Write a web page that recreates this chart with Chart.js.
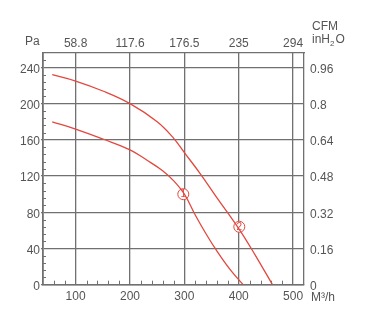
<!DOCTYPE html>
<html lang="en">
<head>
<meta charset="UTF-8">
<title>Fan performance curve</title>
<script src="https://cdn.jsdelivr.net/npm/chart.js"></script>
<style>
  html, body { margin: 0; padding: 0; background: #fff; }
  #wrap { width: 365px; height: 321px; }
</style>
</head>
<body>
<div id="wrap"><canvas id="fanChart" width="365" height="321"></canvas></div>
<script>
// axis ticks (m3/h bottom, CFM top, Pa left, inH2O right)
const flowTicks = [100, 200, 300, 400, 500];
const cfmLabels = ['58.8', '117.6', '176.5', '235', '294'];
const paTicks = [0, 40, 80, 120, 160, 200, 240];
const inH2OLabels = ['0', '0.16', '0.32', '0.48', '0.64', '0.8', '0.96'];

// curve 1 (lower)
const curve1Flow = [57, 100, 150, 200, 230, 260, 280, 300, 320, 340, 360, 385, 408];
const curve1Pa   = [180, 172, 161, 149, 138, 126, 115, 100, 77, 56, 37, 16, 0];
// curve 2 (upper)
const curve2Flow = [57, 100, 150, 200, 250, 280, 300, 330, 360, 400, 430, 462];
const curve2Pa   = [232, 225, 214, 200, 180, 162, 146, 122, 96, 62, 33, 0];

// circled curve numbers
const markFlow = [298, 401];
const markPa = [100, 64];
const markText = ['1', '2'];

const red = '#e2483f';
const gridColor = '#707070';
const textColor = '#555';
const fontFamily = "'Liberation Sans', Arial, sans-serif";
const tickFont = { family: fontFamily, size: 12 };

const toPoints = (xs, ys) => xs.map((x, i) => ({ x: x, y: ys[i] }));

const extras = {
    id: 'extras',
    beforeDatasetsDraw(chart) {
        const ctx = chart.ctx;
        const x = chart.scales.x, y = chart.scales.y;
        const area = chart.chartArea;
        ctx.save();
        ctx.strokeStyle = gridColor;
        ctx.lineWidth = 1;
        // minor ticks on left axis
        for (let v = 8; v < 256; v += 8) {
            if (v % 40 === 0) continue;
            const py = Math.round(y.getPixelForValue(v)) + 0.5;
            ctx.beginPath();
            ctx.moveTo(area.left, py);
            ctx.lineTo(area.left + 3, py);
            ctx.stroke();
        }
        // minor ticks on bottom axis
        for (let v = 60; v < 520; v += 20) {
            if (v % 100 === 0) continue;
            const px = Math.round(x.getPixelForValue(v)) + 0.5;
            ctx.beginPath();
            ctx.moveTo(px, area.bottom);
            ctx.lineTo(px, area.bottom - 4);
            ctx.stroke();
        }
        ctx.restore();
    },
    afterDatasetsDraw(chart) {
        const ctx = chart.ctx;
        const x = chart.scales.x, y = chart.scales.y;
        ctx.save();
        // numbers inside circles
        ctx.fillStyle = red;
        ctx.textAlign = 'center';
        ctx.textBaseline = 'middle';
        ctx.font = '10px ' + fontFamily;
        markText.forEach((t, i) => {
            ctx.fillText(t, x.getPixelForValue(markFlow[i]), y.getPixelForValue(markPa[i]) + 0.5);
        });
        // unit titles
        ctx.fillStyle = textColor;
        ctx.font = '12px ' + fontFamily;
        ctx.textAlign = 'left';
        ctx.textBaseline = 'middle';
        ctx.fillText('Pa', 25, 42);
        ctx.fillText('CFM', 312, 27);
        let px = 312;
        ctx.fillText('inH', px, 40);
        px += ctx.measureText('inH').width;
        ctx.font = '8px ' + fontFamily;
        ctx.fillText('2', px, 44);
        px += ctx.measureText('2').width + 1;
        ctx.font = '12px ' + fontFamily;
        ctx.fillText('O', px, 40);
        ctx.fillText('M³/h', 311, 298);
        ctx.restore();
    }
};

const ctx = document.getElementById('fanChart').getContext('2d');
new Chart(ctx, {
    type: 'line',
    data: {
        datasets: [
            {
                data: toPoints(curve2Flow, curve2Pa),
                borderColor: red, borderWidth: 1.3,
                pointRadius: 0, tension: 0.4, fill: false
            },
            {
                data: toPoints(curve1Flow, curve1Pa),
                borderColor: red, borderWidth: 1.3,
                pointRadius: 0, tension: 0.4, fill: false
            },
            {
                data: toPoints(markFlow, markPa),
                showLine: false,
                pointRadius: 5.5,
                pointBorderWidth: 1,
                pointBorderColor: red,
                pointBackgroundColor: '#fff'
            }
        ]
    },
    options: {
        responsive: false,
        animation: false,
        layout: { padding: 0 },
        plugins: { legend: { display: false }, tooltip: { enabled: false } },
        scales: {
            x: {
                type: 'linear', position: 'bottom', min: 40, max: 520,
                afterBuildTicks: s => { s.ticks = flowTicks.map(v => ({ value: v })); },
                afterFit: s => { s.height = 36.3; },
                grid: { color: gridColor, lineWidth: 1.3, drawTicks: false },
                border: { color: gridColor, width: 1.6 },
                ticks: { font: tickFont, color: textColor, padding: 4.5, maxRotation: 0 }
            },
            x2: {
                type: 'linear', position: 'top', min: 40, max: 520,
                afterBuildTicks: s => { s.ticks = flowTicks.map(v => ({ value: v })); },
                afterFit: s => { s.height = 53; },
                grid: { display: false, drawTicks: false },
                border: { color: gridColor, width: 1.3 },
                ticks: {
                    font: tickFont, color: textColor, padding: 2, maxRotation: 0,
                    callback: (v, i) => cfmLabels[i]
                }
            },
            y: {
                type: 'linear', position: 'left', min: 0, max: 256,
                afterBuildTicks: s => { s.ticks = paTicks.map(v => ({ value: v })); },
                afterFit: s => { s.width = 43; },
                grid: { color: gridColor, lineWidth: 1.3, drawTicks: true, tickLength: 2 },
                border: { color: gridColor, width: 1.8 },
                ticks: { font: tickFont, color: textColor, padding: 1, labelOffset: 2 }
            },
            y2: {
                type: 'linear', position: 'right', min: 0, max: 256,
                afterBuildTicks: s => { s.ticks = paTicks.map(v => ({ value: v })); },
                afterFit: s => { s.width = 61; },
                grid: { display: false, drawTicks: false },
                border: { color: gridColor, width: 1.3 },
                ticks: {
                    font: tickFont, color: textColor, padding: 6, labelOffset: 2,
                    callback: (v, i) => inH2OLabels[i]
                }
            }
        }
    },
    plugins: [extras]
});
</script>
</body>
</html>
